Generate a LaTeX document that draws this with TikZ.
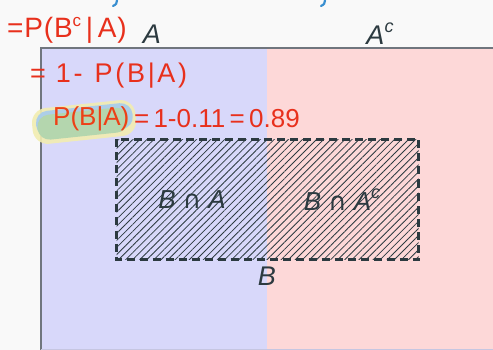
\documentclass[tikz,border=0pt]{standalone}
\usepackage{fontspec}
\setmainfont{Liberation Sans}
\newfontfamily\symfont{DejaVu Sans}
\usetikzlibrary{patterns.meta}
\definecolor{bgc}{HTML}{F9F9F9}
\definecolor{blueA}{HTML}{D8D8FA}
\definecolor{pinkA}{HTML}{FDD8D8}
\definecolor{edgec}{HTML}{70767E}
\definecolor{inkc}{HTML}{2C3A40}
\definecolor{penred}{HTML}{E8301C}
\definecolor{penblue}{HTML}{3A8FD0}
\definecolor{hlyellow}{HTML}{F2EDB0}
\definecolor{hlblue}{HTML}{A6CCEE}
\definecolor{hlgreen}{HTML}{B4D6AE}
\tikzset{
  setlabel/.style={text=inkc, font=\fontsize{27}{30}\selectfont\itshape, inner sep=0pt},
  partlabel/.style={text=inkc, font=\fontsize{26}{30}\selectfont\itshape, inner sep=0pt},
  pen/.style={text=penred, font=\fontsize{27}{30}\selectfont\addfontfeature{LetterSpace=10}, inner sep=0pt, anchor=west},
  hatchfill/.style={pattern={Lines[angle=45, distance=5pt, line width=0.8pt]}, pattern color=inkc},
  dashbox/.style={draw=inkc, line width=2.5pt, dash pattern=on 8pt off 5pt}
}
\begin{document}
\begin{tikzpicture}[x=1pt,y=-1pt]
\useasboundingbox (0,0) rectangle (493,350);
\fill[bgc] (0,0) rectangle (493,350);
% regions
\fill[blueA] (40,47) rectangle (267,350);
\fill[pinkA] (267,47) rectangle (493,350);
\draw[edgec, line width=1.6pt] (40.8,350) -- (40.8,47.8) -- (493,47.8);
\draw[blueA!80!gray, line width=1pt] (41,349.5) -- (493,349.5);
% labels
\node[setlabel] (lA) at (152,34) {A};
\node[setlabel] (lAc) at (380,34) {A\raisebox{0.45em}{\fontsize{18}{20}\selectfont c}};
% hatched set B
\path[hatchfill] (116.5,139.5) rectangle (418.5,259.5);
\path[dashbox] (116.5,139.5) rectangle (418.5,259.5);
\node[partlabel] (ba) at (192,200) {B {\symfont\upshape\fontsize{25}{26}\selectfont ∩} A};
\node[partlabel] (bac) at (342,200) {B {\symfont\upshape\fontsize{25}{26}\selectfont ∩} A\raisebox{0.45em}{\fontsize{18}{20}\selectfont c}};
\node[setlabel] (lB) at (267,276) {B};
% highlight blob
\fill[hlyellow, opacity=0.9, rounded corners=15pt, rotate around={6:(84,121)}] (32,104) rectangle (136,140);
\fill[hlblue, opacity=0.9, rounded corners=12pt, rotate around={6:(84,121)}] (36,107) rectangle (133,133);
\fill[hlgreen, rounded corners=12pt, rotate around={6:(84,121)}] (37,111) rectangle (128,136);
% pen strokes at top
\draw[penblue, line width=2.2pt, line cap=round] (117,0.5) .. controls (116.5,4) .. (113,6);
\draw[penblue, line width=2.2pt, line cap=round] (325,0.5) .. controls (324.5,4) .. (321,6);
% handwriting
\node[pen, font=\fontsize{28}{30}\selectfont\addfontfeature{LetterSpace=3}] (h1) at (7,30) {=P(B\raisebox{0.4em}{\fontsize{17}{18}\selectfont c}\,|\,A)};
\node[pen] (h2) at (30,76) {=\hspace{10pt}1-\hspace{12pt}P(B|A)};
\node[pen, font=\fontsize{26}{30}\selectfont, text=penred!80!orange] (h3a) at (53,119) {P(B|A)};
\node[pen, font=\fontsize{26}{30}\selectfont] (h3b) at (h3a.east) {\,=\,1-0.11\,=\,0.89};
\end{tikzpicture}
\end{document}
